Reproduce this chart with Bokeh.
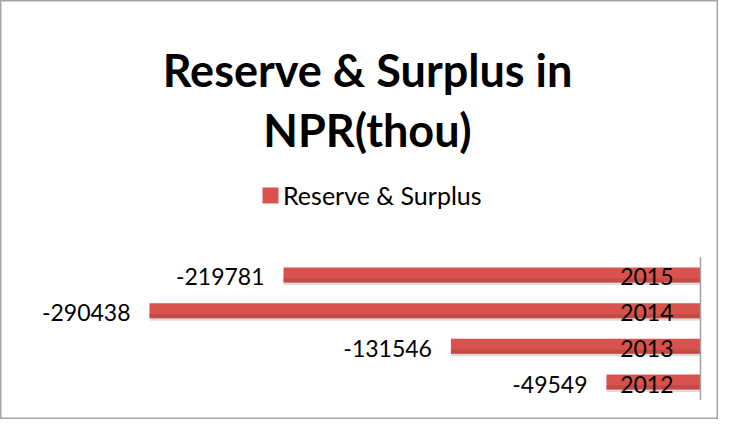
from bokeh.plotting import figure
from bokeh.models import Range1d, Label, Legend, LegendItem, ColumnDataSource
from bokeh.transform import dodge
from bokeh.core.properties import value
from bokeh.embed import file_html
from bokeh.resources import INLINE

# ---- data ----
years = ["2012", "2013", "2014", "2015"]
reserve_surplus = [-49549, -131546, -290438, -219781]
series_name = "Reserve & Surplus"
title_lines = ["Reserve & Surplus in", "NPR(thou)"]

pos = list(range(len(years)))
src = ColumnDataSource(dict(
    y=pos,
    v=reserve_surplus,
    year=years,
    lbl=[str(v) for v in reserve_surplus],
    zero=[0] * len(years),
))

FONT = "Lato"

p = figure(width=718, height=419, output_backend="svg", toolbar_location=None,
           x_range=Range1d(-368984, 9488), y_range=Range1d(-1.0513, 10.696),
           x_axis_location=None, y_axis_location=None, min_border=0)
p.grid.visible = False
p.outline_line_color = "#A6A6A6"
p.outline_line_width = 2
p.background_fill_color = "white"
p.border_fill_color = "white"

BAR_H = 0.42
# soft shadow
p.hbar(y=dodge("y", -0.07), left="v", right="zero", height=BAR_H,
       fill_color="#9a9a9a", fill_alpha=0.35, line_color=None, source=src)
main = p.hbar(y="y", left="v", right="zero", height=BAR_H,
              fill_color="#D8534E", line_color=None, source=src)
# darker lower edge (gradient look)
p.hbar(y=dodge("y", -0.15), left="v", right="zero", height=0.12,
       fill_color="#B0413D", fill_alpha=0.5, line_color=None, source=src)

# vertical category axis line at zero
p.segment(x0=0, y0=-0.5, x1=0, y1=len(years) - 0.5,
          line_color="#A0A0A0", line_width=1.5)

# data labels (outside end)
p.text(x="v", y="y", text="lbl", x_offset=-19, y_offset=2,
       text_align="right", text_baseline="middle",
       text_font=value(FONT), text_font_size="23px", text_color="black",
       source=src)
# category labels (next to axis)
p.text(x="zero", y="y", text="year", x_offset=-27, y_offset=2,
       text_align="right", text_baseline="middle",
       text_font=value(FONT), text_font_size="23px", text_color="black",
       source=src)

# title
for t, yb in zip(title_lines, [350, 290]):
    p.add_layout(Label(x=367, y=yb, x_units="screen", y_units="screen", text=t,
                       text_align="center", text_baseline="alphabetic",
                       text_font=FONT, text_font_style="bold",
                       text_font_size="45px", text_color="black"))

legend = Legend(items=[LegendItem(label=series_name, renderers=[main])],
                location=(260, 209), orientation="horizontal",
                glyph_width=20, glyph_height=20, label_standoff=3,
                label_text_font=FONT, label_text_font_size="25px",
                label_text_color="black",
                label_height=20, padding=0, margin=0,
                border_line_alpha=0, background_fill_alpha=0)
p.add_layout(legend)

open("out.html", "w").write(file_html(p, INLINE))
